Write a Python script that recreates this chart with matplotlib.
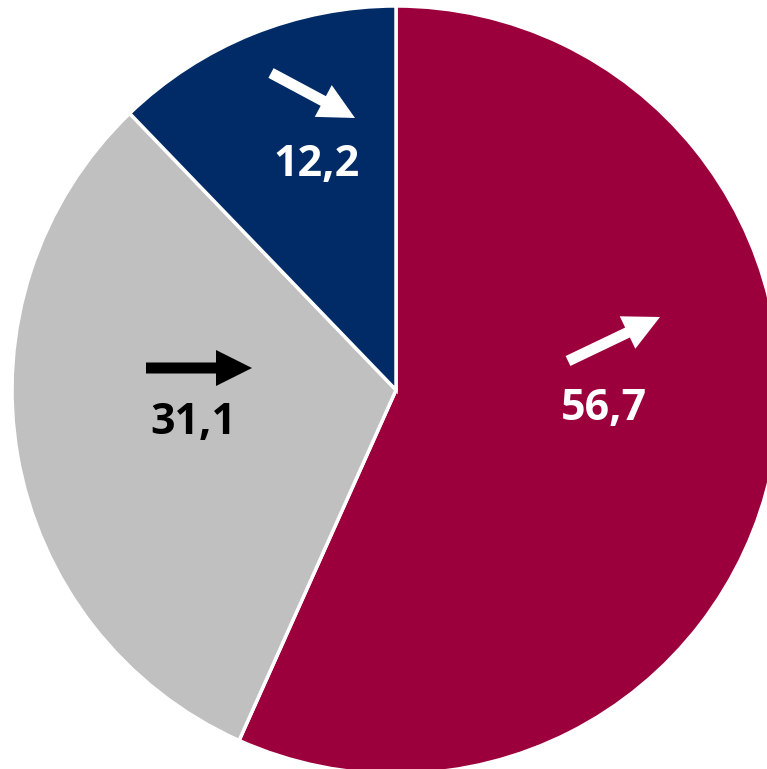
import matplotlib
matplotlib.use("Agg")
import matplotlib.pyplot as plt
from matplotlib.patches import FancyArrow

# データ
values = [56.7, 31.1, 12.2]
colors = ["#9C003C", "#C0C0C0", "#002B66"]
label_colors = ["white", "black", "white"]

# レイアウト（ピクセル座標, 上が0）
W, H = 767, 769
CX, CY, R = 396, 390, 384
label_pos = [(604, 408), (193, 422), (317, 164)]
arrows = [
    ((568, 361), (660, 317), "white"),
    ((146, 368), (252, 368), "black"),
    ((271, 73), (355, 118), "white"),
]

plt.rcParams["font.family"] = ["Open Sans", "DejaVu Sans"]

fig = plt.figure(figsize=(W / 100, H / 100), dpi=100)
ax = fig.add_axes([0, 0, 1, 1])

ax.pie(
    values,
    colors=colors,
    startangle=90,
    counterclock=False,
    center=(CX, H - CY),
    radius=R,
    wedgeprops={"edgecolor": "white", "linewidth": 2.5},
    frame=True,
)
ax.set_xlim(0, W)
ax.set_ylim(0, H)
ax.axis("off")

for v, (x, y), c in zip(values, label_pos, label_colors):
    ax.text(x, H - y, f"{v:.1f}".replace(".", ","), color=c,
            fontsize=31, fontweight="bold", ha="center", va="center")

for (x0, y0), (x1, y1), c in arrows:
    dx, dy = x1 - x0, -(y1 - y0)
    ax.add_patch(FancyArrow(x0, H - y0, dx, dy, width=11, head_width=36,
                            head_length=36, length_includes_head=True,
                            color=c, linewidth=0))

fig.savefig("out.png", dpi=100)
